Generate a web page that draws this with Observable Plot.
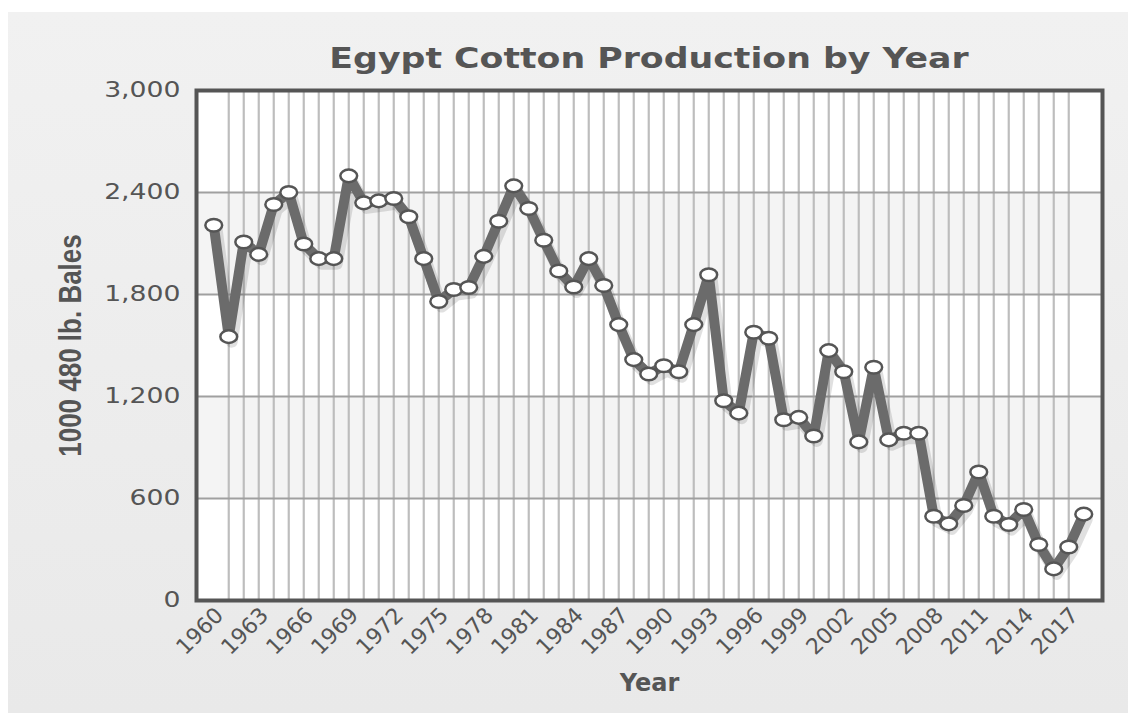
<!DOCTYPE html>
<html>
<head>
<meta charset="utf-8">
<script src="https://cdn.jsdelivr.net/npm/d3@7"></script>
<script src="https://cdn.jsdelivr.net/npm/@observablehq/plot@0.6"></script>
<style>
  html, body { margin: 0; padding: 0; background: #ffffff; }
  #page { position: relative; width: 1128px; height: 713px; overflow: hidden; background: #ffffff; }
  #bg { position: absolute; left: 8px; top: 12px; right: 0; bottom: 0; background: linear-gradient(#f1f1f1, #e9e9e9); }
  #title { position: absolute; left: 196px; width: 906px; top: 45px; text-align: center; line-height: 1;
           font-family: "DejaVu Sans", Verdana, sans-serif; font-weight: bold; font-size: 28px; color: #555;
           transform: scaleX(1.24); transform-origin: 50% 50%; white-space: nowrap; }
  #chart { position: absolute; left: 0; top: 60px; }
</style>
</head>
<body>
<div id="page">
  <div id="bg"></div>
  <div id="title">Egypt Cotton Production by Year</div>
  <div id="chart"></div>
</div>
<script>
const years = [1960,1961,1962,1963,1964,1965,1966,1967,1968,1969,
  1970,1971,1972,1973,1974,1975,1976,1977,1978,1979,
  1980,1981,1982,1983,1984,1985,1986,1987,1988,1989,
  1990,1991,1992,1993,1994,1995,1996,1997,1998,1999,
  2000,2001,2002,2003,2004,2005,2006,2007,2008,2009,
  2010,2011,2012,2013,2014,2015,2016,2017,2018];
const production = [2207,1552,2109,2036,2329,2400,2097,2011,2011,2498,
  2339,2351,2365,2257,2011,1759,1829,1841,2024,2231,
  2439,2306,2119,1938,1844,2011,1853,1623,1417,1332,
  1381,1346,1623,1916,1175,1102,1578,1543,1063,1077,
  968,1470,1346,933,1372,945,984,984,496,451,
  559,756,496,447,535,329,186,315,508];
const xTickYears = [1960,1963,1966,1969,1972,1975,1978,1981,1984,1987,1990,1993,1996,1999,2002,2005,2008,2011,2014,2017];
const gridYears = [1961,1962,1963,1964,1965,1966,1967,1968,1969,1970,1971,1972,1973,1974,1975,1976,1977,1978,1979,1980,
  1981,1982,1983,1984,1985,1986,1987,1988,1989,1990,1991,1992,1993,1994,1995,1996,1997,1998,1999,2000,
  2001,2002,2003,2004,2005,2006,2007,2008,2009,2010,2011,2012,2013,2014,2015,2016,2017];
const yTicks = [0,600,1200,1800,2400,3000];
const bandLow = [600,1800];
const bandHigh = [1200,2400];
const yLabel = "1000 480 lb. Bales";
const xLabel = "Year";

const data = years.map((y, i) => ({year: y, value: production[i]}));
const bands = bandLow.map((b, i) => ({lo: b, hi: bandHigh[i]}));
const xDomain = [1958.85, 2019.25];
const fmt = d3.format(",");

// ellipse symbol (points are slightly wider than tall)
const ellipse = {
  draw(ctx, size) {
    const r = Math.sqrt(size / Math.PI);
    const rx = r * 1.2, ry = r * 0.9, k = 0.5523;
    ctx.moveTo(rx, 0);
    ctx.bezierCurveTo(rx, ry * k, rx * k, ry, 0, ry);
    ctx.bezierCurveTo(-rx * k, ry, -rx, ry * k, -rx, 0);
    ctx.bezierCurveTo(-rx, -ry * k, -rx * k, -ry, 0, -ry);
    ctx.bezierCurveTo(rx * k, -ry, rx, -ry * k, rx, 0);
    ctx.closePath();
  }
};

const chart = Plot.plot({
  width: 1128,
  height: 653,
  marginTop: 30,
  marginLeft: 196,
  marginRight: 26,
  marginBottom: 113,
  style: {background: "transparent", fontFamily: "DejaVu Sans, Verdana, sans-serif", fontSize: "20px", color: "#555", overflow: "visible"},
  x: {domain: xDomain, label: null, axis: null},
  y: {domain: [0, 3000], label: null, axis: null},
  marks: [
    Plot.rect([{}], {x1: xDomain[0], x2: xDomain[1], y1: 0, y2: 3000, fill: "#ffffff"}),
    Plot.rect(bands, {x1: xDomain[0], x2: xDomain[1], y1: "lo", y2: "hi", fill: "#f4f4f4"}),
    Plot.ruleX(gridYears, {stroke: "#bdbdbd", strokeWidth: 2.2}),
    Plot.ruleY(yTicks, {stroke: "#a0a0a0", strokeWidth: 2}),
    Plot.text(yTicks, {y: d => d, text: d => fmt(d), frameAnchor: "left", textAnchor: "end", dx: -16, fontSize: 21, fill: "#555"}),
    Plot.text(xTickYears, {x: d => d, text: d => String(d), frameAnchor: "bottom", rotate: -45, textAnchor: "end", lineAnchor: "middle", dx: 6, dy: 11, fontSize: 22, fill: "#555"}),
    Plot.line(data, {x: "year", y: "value", stroke: "#000", strokeOpacity: 0.12, strokeWidth: 12, dx: 3, dy: 5}),
    Plot.line(data, {x: "year", y: "value", stroke: "#6b6b6b", strokeWidth: 10, strokeLinejoin: "miter"}),
    Plot.dot(data, {x: "year", y: "value", symbol: ellipse, r: 7, fill: "#ffffff", stroke: "#555", strokeWidth: 2.5}),
    Plot.frame({stroke: "#555", strokeWidth: 4}),
    Plot.text([yLabel], {frameAnchor: "left", textAnchor: "middle", rotate: -90, dx: -125, fontWeight: "bold", fontSize: 26, fill: "#555", fontFamily: "Liberation Sans, Arial, sans-serif"}),
    Plot.text([xLabel], {frameAnchor: "bottom", dy: 90, fontWeight: "bold", fontSize: 24, fill: "#555"})
  ]
});
document.getElementById("chart").appendChild(chart);

// the reference's text is horizontally wide: stretch y tick labels and y label
const yTickSet = new Set(yTicks.map(fmt));
d3.select(chart).selectAll("text").each(function() {
  const s = this.textContent;
  const tr = this.getAttribute("transform") || "";
  if (yTickSet.has(s) && !tr.includes("rotate")) {
    const x = parseFloat(this.getAttribute("x")) || 0;
    this.setAttribute("x", 0);
    this.setAttribute("transform", `${tr} translate(${x},0) scale(1.27,1)`);
  } else if (s === yLabel && tr.includes("rotate")) {
    this.setAttribute("transform", tr.replace(/rotate\(-90\)/, "scale(1.18,1) rotate(-90)"));
  }
});
</script>
</body>
</html>
